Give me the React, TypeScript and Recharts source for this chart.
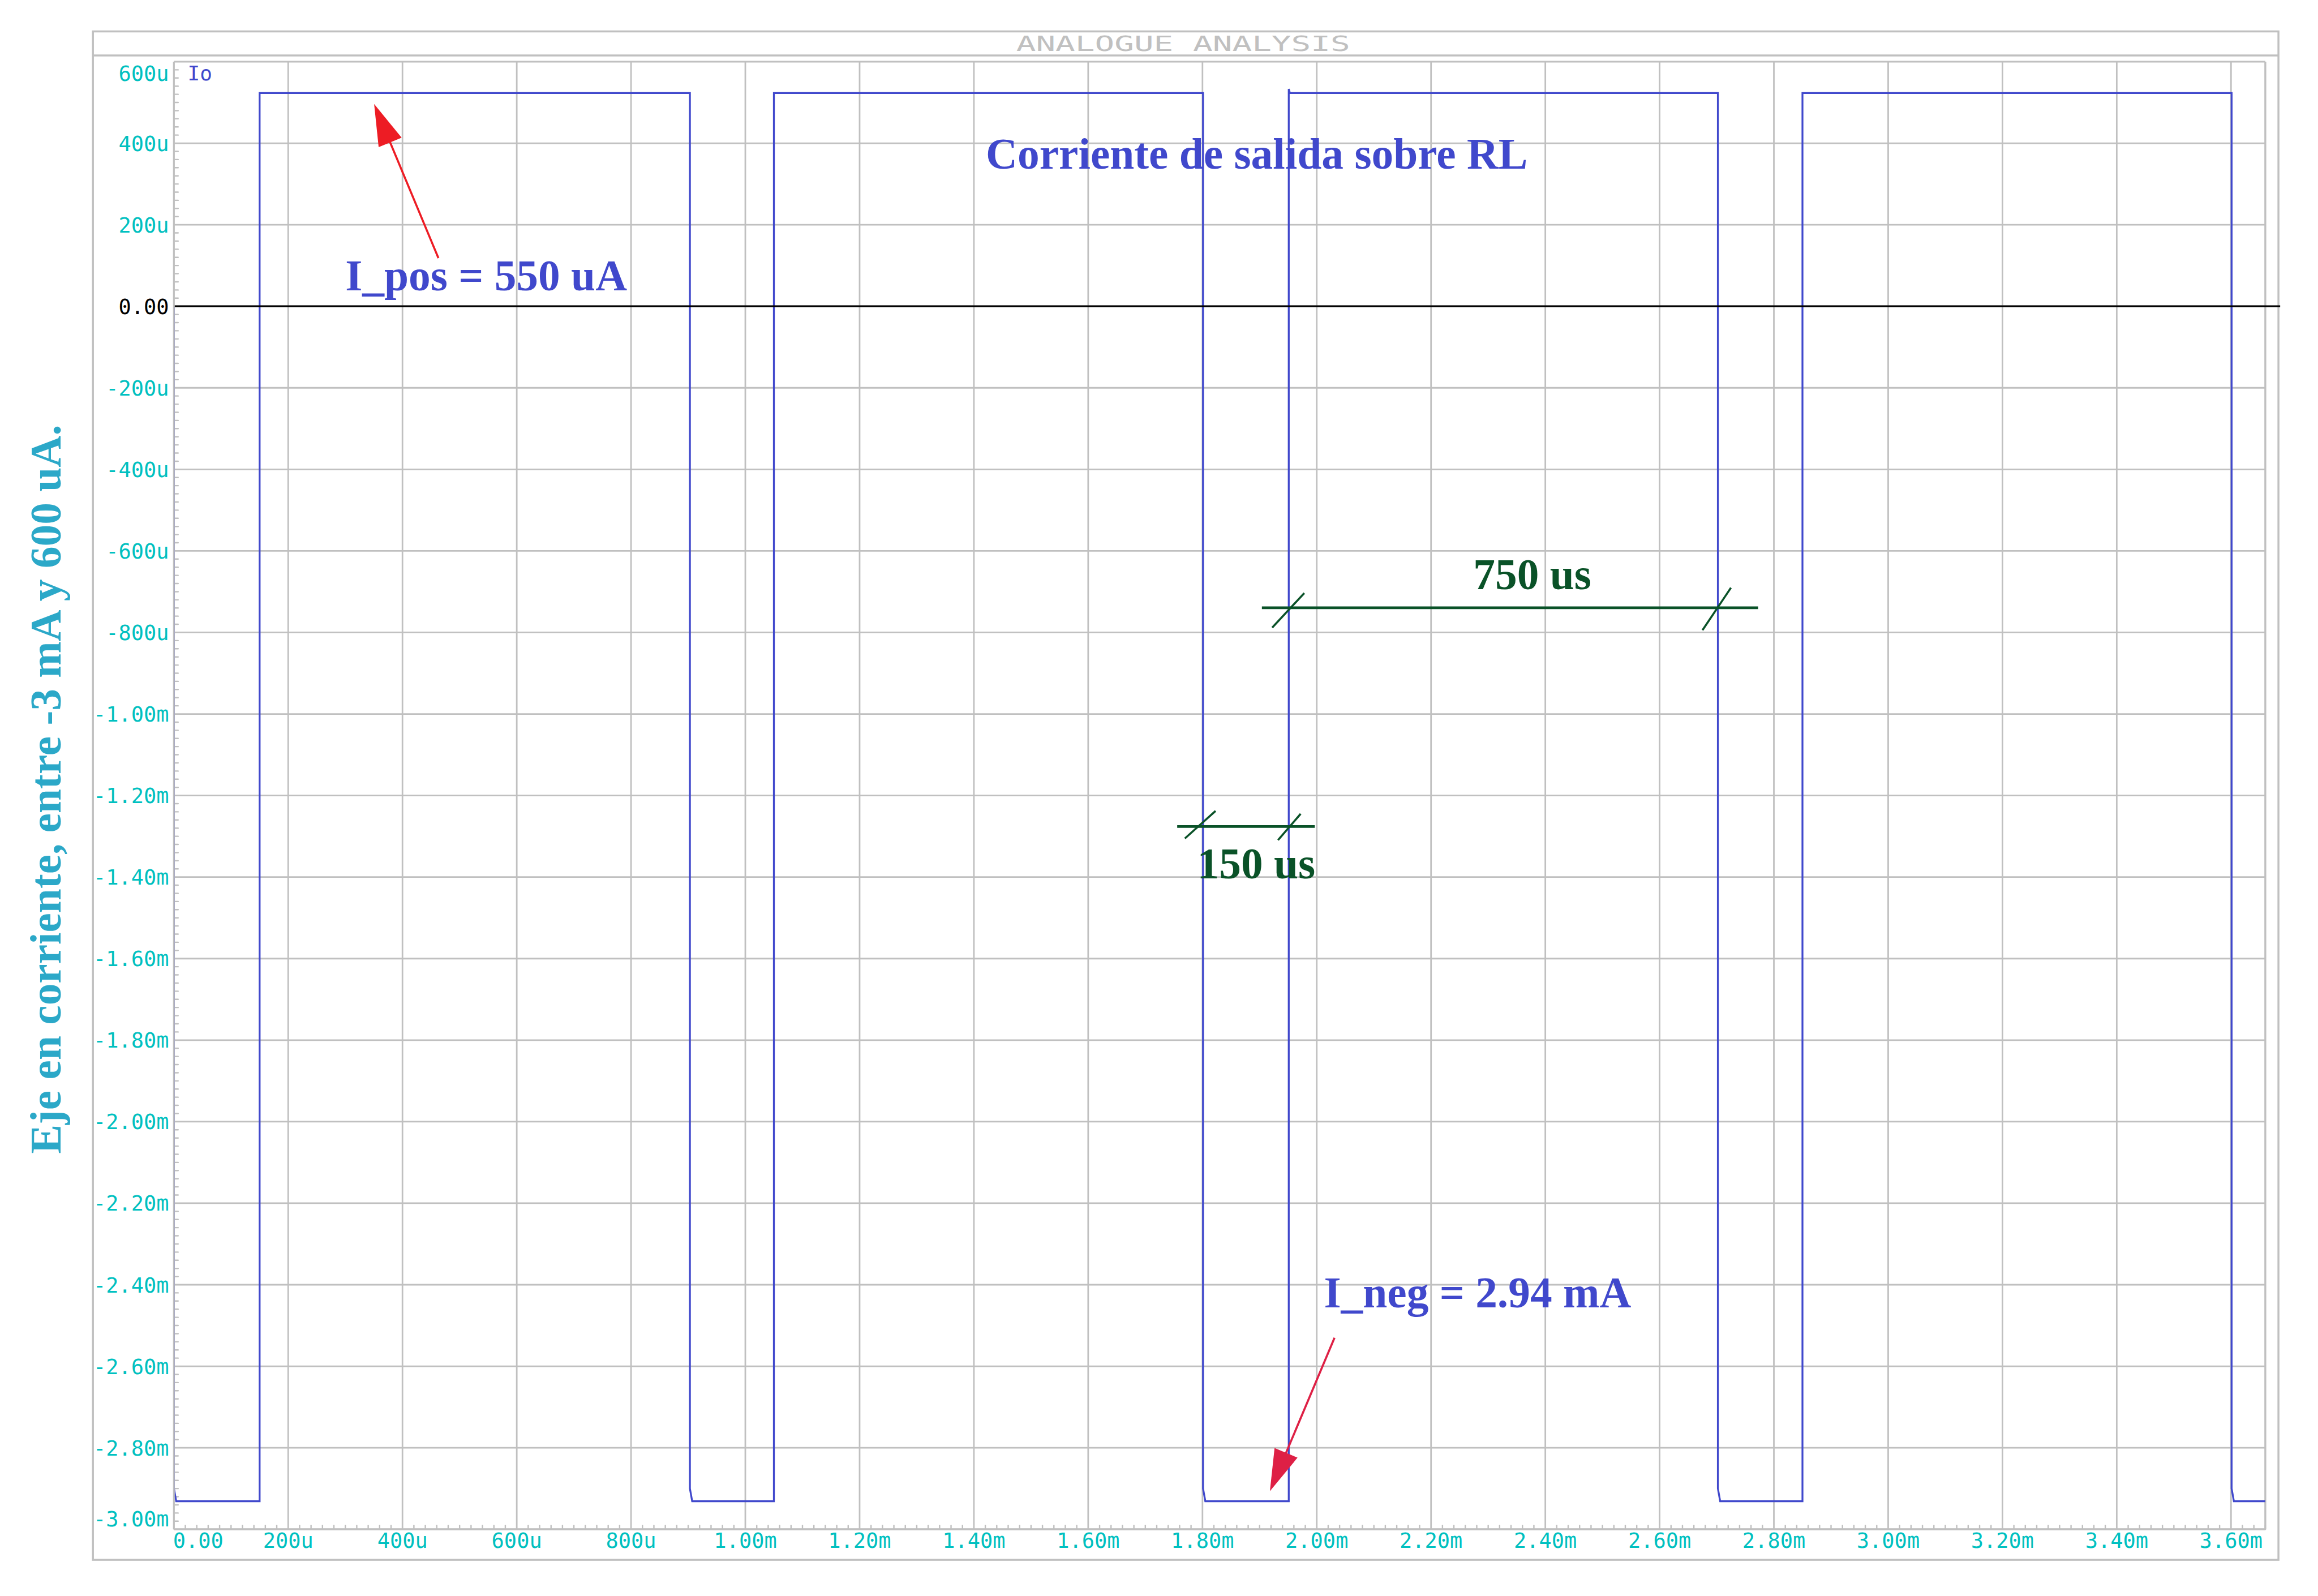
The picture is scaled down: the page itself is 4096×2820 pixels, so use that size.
import React from 'react';
import { LineChart, Line, XAxis, YAxis, CartesianGrid, ReferenceLine, ReferenceDot } from 'recharts';

// ---- waveform Io (time in us, current in uA) ----
const timeUs = [0, 0, 4, 150, 150, 903, 903, 907, 1050, 1050, 1801, 1801, 1805, 1951, 1951, 1953, 2702, 2702, 2706, 2850, 2850, 3601, 3601, 3605, 3660];
const currentUa = [0, -2900, -2931, -2931, 523, 523, -2900, -2931, -2931, 523, 523, -2900, -2931, -2931, 533, 523, 523, -2900, -2931, -2931, 523, 523, -2900, -2931, -2931];

// ---- axes ----
const X_DOMAIN = [0, 3660];
const Y_DOMAIN = [-3000, 600];
const xTicks = [0, 200, 400, 600, 800, 1000, 1200, 1400, 1600, 1800, 2000, 2200, 2400, 2600, 2800, 3000, 3200, 3400, 3600];
const xTickLabels = ['0.00', '200u', '400u', '600u', '800u', '1.00m', '1.20m', '1.40m', '1.60m', '1.80m', '2.00m', '2.20m', '2.40m', '2.60m', '2.80m', '3.00m', '3.20m', '3.40m', '3.60m'];
const yTicks = [600, 400, 200, 0, -200, -400, -600, -800, -1000, -1200, -1400, -1600, -1800, -2000, -2200, -2400, -2600, -2800, -3000];
const yTickLabels = ['600u', '400u', '200u', '0.00', '-200u', '-400u', '-600u', '-800u', '-1.00m', '-1.20m', '-1.40m', '-1.60m', '-1.80m', '-2.00m', '-2.20m', '-2.40m', '-2.60m', '-2.80m', '-3.00m'];
const xMinorTicks = Array.from({ length: 184 }, (_, k) => k * 20).filter((v) => v <= 3660 && v % 200 !== 0);
const yMinorTicks = Array.from({ length: 181 }, (_, k) => -3000 + k * 20).filter((v) => v % 200 !== 0);

// ---- annotations (data coordinates: us, uA) ----
const BLUE = '#4048cc';
const GREEN = '#0a5228';
const textNotes = [
  { label: 'Corriente de salida sobre RL', t: 1421, i: 337.7, color: BLUE },
  { label: 'I_pos = 550 uA', t: 300, i: 38.5, color: BLUE },
  { label: 'I_neg = 2.94 mA', t: 2012.6, i: -2455, color: BLUE },
  { label: '750 us', t: 2273.9, i: -694, color: GREEN },
  { label: '150 us', t: 1790.9, i: -1402.6, color: GREEN },
];
const dimMainLines = [
  [{ x: 1904, y: -739.4 }, { x: 2772.4, y: -739.4 }],
  [{ x: 1755.8, y: -1276 }, { x: 1996.6, y: -1276 }],
];
const dimSlashes = [
  [{ x: 1922, y: -788.2 }, { x: 1978.2, y: -703.5 }],
  [{ x: 2675, y: -794.4 }, { x: 2724.8, y: -690.5 }],
  [{ x: 1769.2, y: -1305.4 }, { x: 1822.9, y: -1237.8 }],
  [{ x: 1932.2, y: -1309.4 }, { x: 1971.8, y: -1245 }],
];
const arrows = [
  { seg: [{ x: 462.9, y: 118.2 }, { x: 350.4, y: 496.2 }], color: '#ed1c24' },
  { seg: [{ x: 2031.1, y: -2530.2 }, { x: 1918, y: -2906.4 }], color: '#de2045' },
];
const zeroLine = [{ x: 0, y: 0 }, { x: 3686, y: 0 }];
const traceName = 'Io';
const traceNamePos = { t: 24, i: 554.4 };

const W = 4096;
const H = 2820;
const GRAY = '#c0c0c0';
const CYAN = '#00c0c0';
const MONO = '"DejaVu Sans Mono", monospace';
const SERIF = '"Liberation Serif", "Times New Roman", serif';

const data = timeUs.map((t, k) => ({ t, i: currentUa[k] }));

const YTick = (props: any) => {
  const { x, y, payload } = props;
  const idx = yTicks.indexOf(payload.value);
  let dy = 13.5;
  if (payload.value === 600) dy = 33.5;
  if (payload.value === -3000) dy = -5.5;
  return (
    <text x={x - 8.7} y={y + dy} textAnchor="end" fontFamily={MONO} fontSize={37} fill={payload.value === 0 ? '#000000' : CYAN}>
      {yTickLabels[idx]}
    </text>
  );
};

const XTick = (props: any) => {
  const { x, y, payload } = props;
  const idx = xTicks.indexOf(payload.value);
  const first = payload.value === 0;
  return (
    <text x={first ? x - 1.6 : x} y={y + 32.6} textAnchor={first ? 'start' : 'middle'} fontFamily={MONO} fontSize={37} fill={CYAN}>
      {xTickLabels[idx]}
    </text>
  );
};

const minorYShape = (p: any) => {
  const x = Math.min(p.x1, p.x2);
  return <line x1={x} x2={x + 7.5} y1={p.y1} y2={p.y1} stroke={GRAY} strokeWidth={2.4} strokeLinecap="round" />;
};
const minorXShape = (p: any) => {
  const y = Math.max(p.y1, p.y2);
  return <line x1={p.x1} x2={p.x1} y1={y} y2={y - 6.8} stroke={GRAY} strokeWidth={2.4} strokeLinecap="round" />;
};

const arrowShape = (color: string) => (p: any) => {
  const { x1, y1, x2, y2 } = p;
  const dx = x2 - x1;
  const dy = y2 - y1;
  const len = Math.hypot(dx, dy) || 1;
  const ux = dx / len;
  const uy = dy / len;
  const hl = 73.5;
  const hw = 22;
  const bx = x2 - ux * hl;
  const by = y2 - uy * hl;
  const px = -uy;
  const py = ux;
  return (
    <g>
      <line x1={x1} y1={y1} x2={bx + ux * 4} y2={by + uy * 4} stroke={color} strokeWidth={3.6} />
      <polygon points={`${x2},${y2} ${bx + px * hw},${by + py * hw} ${bx - px * hw},${by - py * hw}`} fill={color} />
    </g>
  );
};

const textShape = (label: string, color: string, font: string, size: number, weight: string) => (p: any) => (
  <text x={p.cx} y={p.cy} fontFamily={font} fontSize={size} fontWeight={weight} fill={color}>
    {label}
  </text>
);

const Frame = () => (
  <svg width={W} height={H} style={{ position: 'absolute', left: 0, top: 0 }}>
    <rect x={164.2} y={55.5} width={3861.9} height={2700.6} fill="none" stroke={GRAY} strokeWidth={3.5} />
    <line x1={164.2} x2={4026.1} y1={98} y2={98} stroke={GRAY} strokeWidth={3.5} />
    <text x={1795.7} y={90.3} fontFamily={MONO} fontSize={38} fill={GRAY} textLength={590} lengthAdjust="spacingAndGlyphs">
      ANALOGUE ANALYSIS
    </text>
    <text
      x={0}
      y={0}
      transform="translate(107.4,1394.5) rotate(-90)"
      textAnchor="middle"
      fontFamily={SERIF}
      fontWeight="bold"
      fontSize={77.4}
      fill="#2ba8c8"
    >
      Eje en corriente, entre -3 mA y 600 uA.
    </text>
  </svg>
);

export default function App() {
  return (
    <div style={{ position: 'absolute', left: 0, top: 0, width: W, height: H, background: '#ffffff' }}>
      <Frame />
      <div style={{ position: 'absolute', left: 0, top: 0 }}>
        <LineChart width={W} height={H} data={data} margin={{ top: 109, right: 93.1, bottom: 0, left: 0 }}>
          <CartesianGrid stroke={GRAY} strokeWidth={2.8} fill="none" />
          <XAxis
            dataKey="t"
            type="number"
            domain={X_DOMAIN}
            ticks={xTicks}
            interval={0}
            allowDataOverflow
            height={117.8}
            tickLine={false}
            tickSize={0}
            tickMargin={0}
            axisLine={{ stroke: GRAY, strokeWidth: 3.7 }}
            tick={<XTick />}
          />
          <YAxis
            type="number"
            domain={Y_DOMAIN}
            ticks={yTicks}
            interval={0}
            allowDataOverflow
            width={307.3}
            tickLine={false}
            tickSize={0}
            tickMargin={0}
            axisLine={{ stroke: GRAY, strokeWidth: 3 }}
            tick={<YTick />}
          />
          {yMinorTicks.map((v) => (
            <ReferenceLine key={`my${v}`} y={v} shape={minorYShape} />
          ))}
          {xMinorTicks.map((v) => (
            <ReferenceLine key={`mx${v}`} x={v} shape={minorXShape} />
          ))}
          <ReferenceLine x={X_DOMAIN[1]} stroke={GRAY} strokeWidth={3} />
          <Line type="linear" dataKey="i" stroke={BLUE} strokeWidth={3.3} dot={false} activeDot={false} isAnimationActive={false} />
          <ReferenceLine segment={zeroLine} ifOverflow="visible" stroke="#000000" strokeWidth={3.3} />
          {dimMainLines.map((s, k) => (
            <ReferenceLine key={`dm${k}`} segment={s} stroke={GREEN} strokeWidth={4.8} />
          ))}
          {dimSlashes.map((s, k) => (
            <ReferenceLine key={`ds${k}`} segment={s} stroke={GREEN} strokeWidth={3.6} />
          ))}
          {arrows.map((a, k) => (
            <ReferenceLine key={`ar${k}`} segment={a.seg} stroke={a.color} shape={arrowShape(a.color)} />
          ))}
          {textNotes.map((n, k) => (
            <ReferenceDot key={`tn${k}`} x={n.t} y={n.i} r={0} shape={textShape(n.label, n.color, SERIF, 77.4, 'bold')} />
          ))}
          <ReferenceDot x={traceNamePos.t} y={traceNamePos.i} r={0} shape={textShape(traceName, BLUE, MONO, 36, 'normal')} />
        </LineChart>
      </div>
    </div>
  );
}
